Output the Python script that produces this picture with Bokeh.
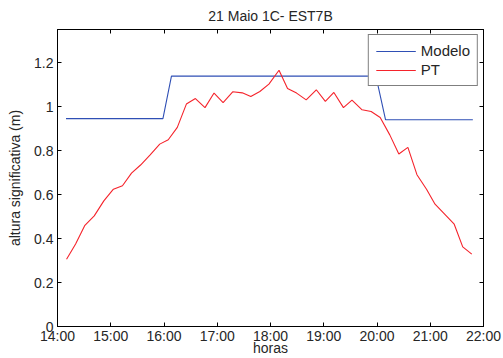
from bokeh.plotting import figure
from bokeh.models import Range1d, FixedTicker, LinearAxis, Legend, LegendItem, CustomJSTickFormatter
from bokeh.embed import file_html
from bokeh.resources import INLINE

# ---- data (hours as decimal) ----
modelo_t = [14.16, 15.98, 16.14, 19.98, 20.16, 21.80]
modelo_h = [0.945, 0.945, 1.138, 1.138, 0.940, 0.940]

pt_t = [14.17, 14.34, 14.51, 14.69, 14.87, 15.05, 15.22, 15.39, 15.56, 15.74,
        15.92, 16.08, 16.25, 16.42, 16.59, 16.77, 16.94, 17.11, 17.29, 17.47,
        17.63, 17.80, 17.97, 18.16, 18.32, 18.49, 18.67, 18.86, 19.03, 19.19,
        19.37, 19.53, 19.72, 19.89, 20.06, 20.24, 20.41, 20.58, 20.75, 20.93,
        21.09, 21.27, 21.45, 21.61, 21.78]
pt_h = [0.306, 0.375, 0.458, 0.503, 0.571, 0.624, 0.640, 0.697, 0.734, 0.780,
        0.829, 0.849, 0.905, 1.011, 1.036, 0.995, 1.061, 1.018, 1.067, 1.062,
        1.045, 1.068, 1.102, 1.165, 1.082, 1.061, 1.030, 1.076, 1.023, 1.064,
        0.995, 1.029, 0.985, 0.977, 0.950, 0.871, 0.784, 0.814, 0.690, 0.624,
        0.556, 0.511, 0.465, 0.362, 0.329]

x_ticks = [14, 15, 16, 17, 18, 19, 20, 21, 22]
x_labels = ["14:00", "15:00", "16:00", "17:00", "18:00", "19:00", "20:00", "21:00", "22:00"]
y_ticks = [0, 0.2, 0.4, 0.6, 0.8, 1, 1.2]
y_labels = ["0", "0.2", "0.4", "0.6", "0.8", "1", "1.2"]

FONT = "Liberation Sans"
TXT = "#262626"

p = figure(width=503, height=358, output_backend="svg", toolbar_location=None,
           x_range=Range1d(14, 22), y_range=Range1d(0, 1.35),
           min_border_left=57, min_border_right=20, min_border_top=29, min_border_bottom=32,
           title="21 Maio 1C- EST7B")
p.title.align = "center"
p.title.text_font = FONT
p.title.text_font_size = "14px"
p.title.text_font_style = "normal"
p.title.text_color = TXT
p.title.standoff = 11

p.xgrid.visible = False
p.ygrid.visible = False
p.outline_line_color = "black"
p.outline_line_width = 1
p.background_fill_color = "white"
p.border_fill_color = "white"

xa = p.xaxis[0]
xa.ticker = FixedTicker(ticks=x_ticks)
xa.major_label_overrides = {t: l for t, l in zip(x_ticks, x_labels)}
ya = p.yaxis[0]
ya.ticker = FixedTicker(ticks=y_ticks)
ya.major_label_overrides = {t: l for t, l in zip(y_ticks, y_labels)}
xa.axis_label = "horas"
ya.axis_label = "altura significativa (m)"

for ax in (xa, ya):
    ax.major_tick_in = 4
    ax.major_tick_out = 0
    ax.minor_tick_line_color = None
    ax.axis_line_color = "black"
    ax.major_tick_line_color = "black"
    ax.major_label_text_font = FONT
    ax.major_label_text_font_size = "14px"
    ax.major_label_text_color = TXT
    ax.axis_label_text_font = FONT
    ax.axis_label_text_font_size = "14px"
    ax.axis_label_text_font_style = "normal"
    ax.axis_label_text_color = TXT
xa.major_label_standoff = 1
xa.axis_label_standoff = -7
ya.major_label_standoff = 4
ya.axis_label_standoff = 8

empty = CustomJSTickFormatter(code="return ''")
top = LinearAxis(ticker=FixedTicker(ticks=x_ticks), formatter=empty,
                 major_tick_in=4, major_tick_out=0, minor_tick_line_color=None,
                 axis_line_color="black", major_label_standoff=0)
right = LinearAxis(ticker=FixedTicker(ticks=y_ticks), formatter=empty,
                   major_tick_in=4, major_tick_out=0, minor_tick_line_color=None,
                   axis_line_color="black", major_label_standoff=0)
p.add_layout(top, "above")
p.add_layout(right, "right")

r1 = p.line(modelo_t, modelo_h, line_color="#2f4fb5", line_width=1.1)
r2 = p.line(pt_t, pt_h, line_color="#f5232b", line_width=1.1)

legend = Legend(items=[LegendItem(label="Modelo", renderers=[r1]),
                       LegendItem(label="PT", renderers=[r2])],
                location="top_right")
legend.margin = 5
legend.padding = 7
legend.spacing = 2
legend.glyph_height = 14
legend.label_height = 14
legend.glyph_width = 40
legend.label_standoff = 5
legend.label_text_font = FONT
legend.label_text_font_size = "15px"
legend.label_text_color = TXT
legend.border_line_color = "black"
legend.border_line_width = 1
legend.background_fill_color = "white"
legend.background_fill_alpha = 1
p.add_layout(legend, "center")

open("out.html", "w").write(file_html(p, INLINE))
